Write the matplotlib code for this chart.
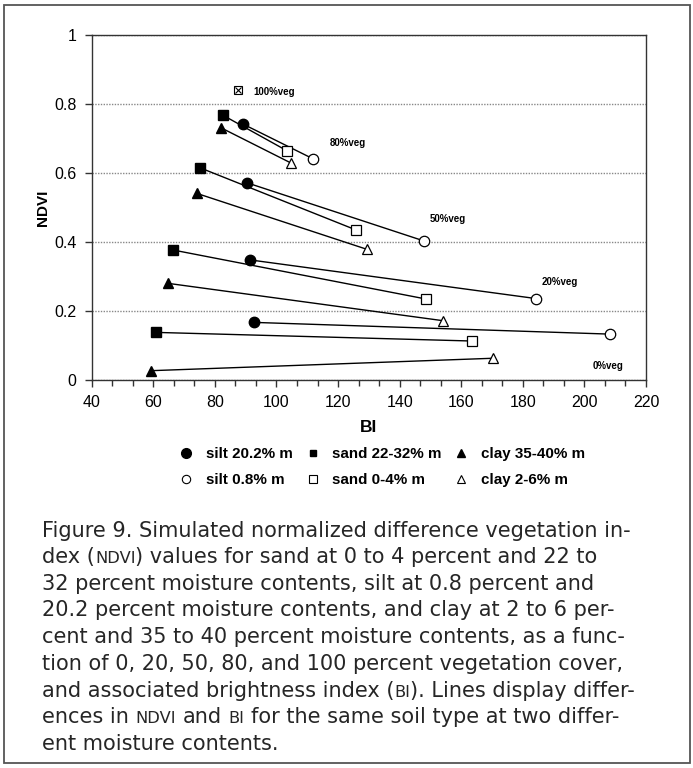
import numpy as np
import matplotlib
matplotlib.use("Agg")
import matplotlib.pyplot as plt
from matplotlib.lines import Line2D
from matplotlib.patches import Rectangle
from matplotlib.ticker import MultipleLocator, FuncFormatter

plt.rcParams['font.family'] = ['Liberation Sans', 'DejaVu Sans']

# ---- data (BI, NDVI) for 0, 20, 50, 80 % vegetation
veg_levels = [0, 20, 50, 80]

silt_wet_bi = [92.6, 91.5, 90.3, 89.1]      # silt 20.2% m
silt_wet_ndvi = [0.167, 0.348, 0.572, 0.742]
silt_dry_bi = [208.3, 184.3, 147.9, 111.9]  # silt 0.8% m
silt_dry_ndvi = [0.133, 0.236, 0.403, 0.641]

sand_wet_bi = [60.8, 66.3, 75.2, 82.5]      # sand 22-32% m
sand_wet_ndvi = [0.138, 0.377, 0.615, 0.768]
sand_dry_bi = [163.4, 148.4, 125.8, 103.3]  # sand 0-4% m
sand_dry_ndvi = [0.113, 0.235, 0.435, 0.665]

clay_wet_bi = [59.3, 64.9, 74.1, 82.0]      # clay 35-40% m
clay_wet_ndvi = [0.027, 0.280, 0.541, 0.731]
clay_dry_bi = [170.2, 154.0, 129.3, 104.7]  # clay 2-6% m
clay_dry_ndvi = [0.063, 0.172, 0.379, 0.629]

# 100% veg: all soils fall on one point
veg100_bi = 87.5
veg100_ndvi = 0.84

veg_labels = ["0%veg", "20%veg", "50%veg", "80%veg", "100%veg"]
veg_label_x = [202.8, 186.2, 149.8, 117.4, 92.4]
veg_label_y = [0.041, 0.284, 0.467, 0.687, 0.835]

x_ticks = [40, 60, 80, 100, 120, 140, 160, 180, 200, 220]
y_ticks = [0, 0.2, 0.4, 0.6, 0.8, 1.0]

legend_labels = ["silt 20.2% m", "silt 0.8% m", "sand 22-32% m",
                 "sand 0-4% m", "clay 35-40% m", "clay 2-6% m"]

caption = [
    [("Figure 9. Simulated normalized difference vegetation in-", 0)],
    [("dex (", 0), ("NDVI", 1), (") values for sand at 0 to 4 percent and 22 to", 0)],
    [("32 percent moisture contents, silt at 0.8 percent and", 0)],
    [("20.2 percent moisture contents, and clay at 2 to 6 per-", 0)],
    [("cent and 35 to 40 percent moisture contents, as a func-", 0)],
    [("tion of 0, 20, 50, 80, and 100 percent vegetation cover,", 0)],
    [("and associated brightness index (", 0), ("BI", 1), ("). Lines display differ-", 0)],
    [("ences in ", 0), ("NDVI", 1), (" and ", 0), ("BI", 1),
     (" for the same soil type at two differ-", 0)],
    [("ent moisture contents.", 0)],
]

W, H = 693, 768
fig = plt.figure(figsize=(W / 100, H / 100), dpi=100)

# outer frame
fig.patches.append(Rectangle((4 / W, 1 - 763 / H), 686 / W, 758 / H,
                             transform=fig.transFigure, fill=False,
                             edgecolor='#555555', lw=1.3))

ax = fig.add_axes([91.7 / W, 1 - 380 / H, (646 - 91.7) / W, 345 / H])

soils = [
    (silt_wet_bi, silt_wet_ndvi, silt_dry_bi, silt_dry_ndvi, 'o', 7.5),
    (sand_wet_bi, sand_wet_ndvi, sand_dry_bi, sand_dry_ndvi, 's', 6.5),
    (clay_wet_bi, clay_wet_ndvi, clay_dry_bi, clay_dry_ndvi, '^', 7.5),
]
for wb, wn, db, dn, mk, ms in soils:
    for i in range(len(veg_levels)):
        ax.plot([wb[i], db[i]], [wn[i], dn[i]], color='black', lw=1, zorder=2)
    ax.plot(wb, wn, linestyle='none', marker=mk, ms=ms, mfc='black',
            mec='black', zorder=3)
    ax.plot(db, dn, linestyle='none', marker=mk, ms=ms, mfc='white',
            mec='black', mew=0.9, zorder=3)

ax.plot([veg100_bi], [veg100_ndvi], linestyle='none', marker='s', ms=6,
        mfc='white', mec='black', mew=0.8, zorder=3)
ax.plot([veg100_bi], [veg100_ndvi], linestyle='none', marker='x', ms=4.5,
        mec='black', mew=0.8, zorder=4)

for s, x, y in zip(veg_labels, veg_label_x, veg_label_y):
    ax.text(x, y, s, fontsize=7, fontweight='bold', ha='left', va='center')

ax.set_xlim(40, 220)
ax.set_ylim(0, 1)
ax.set_xticks(x_ticks)
ax.set_yticks(y_ticks)
ax.xaxis.set_minor_locator(MultipleLocator(20 / 3))
ax.yaxis.set_major_formatter(FuncFormatter(lambda v, p: '%g' % v))
ax.yaxis.grid(True, linestyle=(0, (1, 1)), color='#888888', lw=1)
ax.set_axisbelow(True)
for sp in ax.spines.values():
    sp.set_color('#333333')
    sp.set_linewidth(1)
ax.tick_params(axis='both', direction='out', length=5, width=1,
               labelsize=11.5, pad=6, color='#333333')
ax.tick_params(axis='x', which='minor', direction='out', length=4, width=1,
               color='#333333')

fig.text(43 / W, 1 - 208 / H, 'NDVI', rotation=90, fontsize=11,
         fontweight='bold', ha='center', va='center')
fig.text(369 / W, 1 - 428 / H, 'BI', fontsize=12.5, fontweight='bold',
         ha='center', va='center')

# legend
handles = [
    Line2D([], [], ls='none', marker='o', ms=7, mfc='black', mec='black'),
    Line2D([], [], ls='none', marker='o', ms=6, mfc='white', mec='black', mew=0.8),
    Line2D([], [], ls='none', marker='s', ms=5, mfc='black', mec='black'),
    Line2D([], [], ls='none', marker='s', ms=6, mfc='white', mec='black', mew=0.8),
    Line2D([], [], ls='none', marker='^', ms=6, mfc='black', mec='black'),
    Line2D([], [], ls='none', marker='^', ms=6, mfc='white', mec='black', mew=0.8),
]
fig.legend(handles, legend_labels, ncol=3, frameon=False, loc='center',
           bbox_to_anchor=(382 / W, 1 - 467 / H),
           prop={'weight': 'bold', 'size': 10.9}, handlelength=1.0,
           handletextpad=0.8, columnspacing=0.8, labelspacing=0.8)

# caption with small caps for NDVI / BI
renderer = fig.canvas.get_renderer()
cap_size = 15.05
cap_kw = dict(family='DejaVu Sans', color='#262626', va='baseline', ha='left')


def text_width(s, size):
    t = fig.text(0, 0, s, fontsize=size, **cap_kw)
    w = t.get_window_extent(renderer).width
    t.remove()
    return w


space_w = {}
for sz in (cap_size, cap_size * 0.78):
    space_w[sz] = text_width('x x', sz) - text_width('xx', sz)

line_y = [530, 556, 583, 609, 636, 663, 690, 716, 743]
for segs, yc in zip(caption, line_y):
    xpx = 42
    ybase = 1 - (yc + 7) / H
    for s, small in segs:
        sz = cap_size * 0.78 if small else cap_size
        lead = len(s) - len(s.lstrip(' '))
        trail = len(s) - len(s.rstrip(' '))
        xpx += lead * space_w[sz]
        core = s.strip(' ')
        t = fig.text(xpx / W, ybase, core, fontsize=sz, **cap_kw)
        xpx += t.get_window_extent(renderer).width + trail * space_w[sz]

fig.savefig('out.png', dpi=100)
